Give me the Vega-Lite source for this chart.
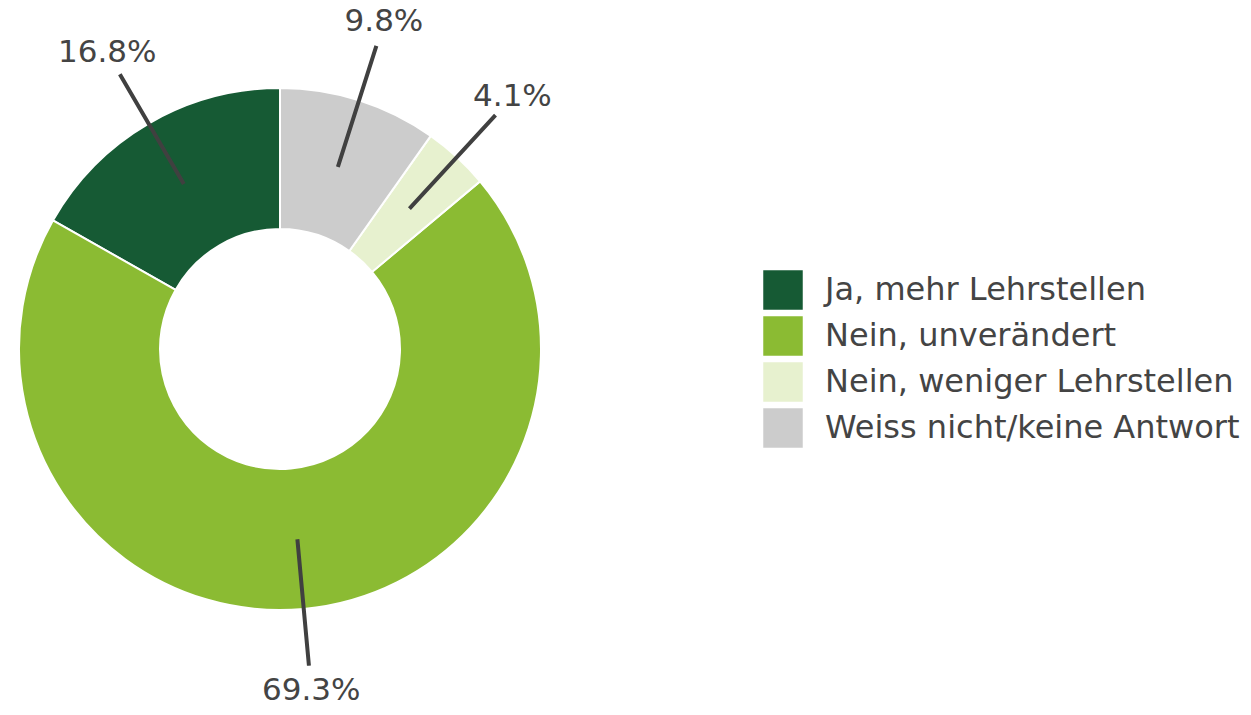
{
  "$schema": "https://vega.github.io/schema/vega-lite/v6.json",
  "width": 560,
  "height": 698,
  "padding": 0,
  "background": "white",
  "config": {
    "view": {"stroke": null},
    "font": "DejaVu Sans"
  },
  "data": {
    "values": [
      {"category": "Ja, mehr Lehrstellen", "share": 16.8, "label": "16.8%"},
      {"category": "Nein, unverändert", "share": 69.3, "label": "69.3%"},
      {"category": "Nein, weniger Lehrstellen", "share": 4.1, "label": "4.1%"},
      {"category": "Weiss nicht/keine Antwort", "share": 9.8, "label": "9.8%"}
    ]
  },
  "layer": [
    {
      "mark": {"type": "arc", "radius": 261, "radius2": 120, "stroke": "white", "strokeWidth": 2},
      "encoding": {
        "theta": {"field": "share", "type": "quantitative", "stack": true},
        "order": {"field": "category", "sort": "descending"},
        "color": {
          "field": "category",
          "type": "nominal",
          "scale": {
            "domain": ["Ja, mehr Lehrstellen", "Nein, unverändert", "Nein, weniger Lehrstellen", "Weiss nicht/keine Antwort"],
            "range": ["#165a34", "#8bbb33", "#e7f1cf", "#cccccc"]
          },
          "legend": {
            "title": null,
            "orient": "none",
            "legendX": 763,
            "legendY": 270,
            "symbolType": "square",
            "symbolSize": 1560,
            "symbolStrokeWidth": 0,
            "labelFont": "DejaVu Sans",
            "labelFontSize": 32,
            "labelColor": "#444444",
            "labelOffset": 22,
            "rowPadding": 6,
            "padding": 0,
            "labelLimit": 600
          }
        }
      }
    },
    {
      "transform": [
        {"stack": "share", "groupby": [], "sort": [{"field": "category", "order": "descending"}], "as": ["s0", "s1"]},
        {"calculate": "(datum.s0 + datum.s1) / 2", "as": "mid"}
      ],
      "mark": {"type": "arc", "radius": 318, "radius2": 191, "stroke": "#404040", "strokeWidth": 4, "strokeCap": "round", "fill": null},
      "encoding": {
        "theta": {"field": "mid", "type": "quantitative", "stack": null},
        "theta2": {"field": "mid"}
      }
    },
    {
      "mark": {"type": "text", "radius": 343, "fontSize": 31, "color": "#444444", "font": "DejaVu Sans", "align": "center", "baseline": "middle"},
      "encoding": {
        "theta": {"field": "share", "type": "quantitative", "stack": true},
        "order": {"field": "category", "sort": "descending"},
        "text": {"field": "label"}
      }
    }
  ]
}
